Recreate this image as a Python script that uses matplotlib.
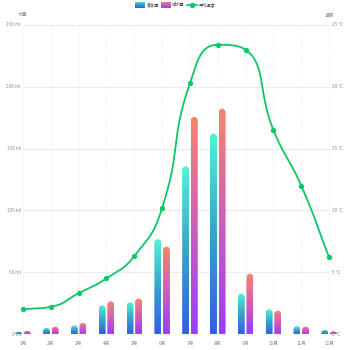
import numpy as np
import matplotlib
matplotlib.use("Agg")
import matplotlib.pyplot as plt
from matplotlib.path import Path
from matplotlib.patches import PathPatch
from matplotlib.colors import LinearSegmentedColormap
from matplotlib.transforms import blended_transform_factory

plt.rcParams['font.family'] = ['Noto Sans CJK SC', 'DejaVu Sans']

months = ['1月', '2月', '3月', '4月', '5月', '6月', '7月', '8月', '9月', '10月', '11月', '12月']
evaporation = [2.0, 4.9, 7.0, 23.2, 25.6, 76.7, 135.6, 162.2, 32.6, 20.0, 6.4, 3.3]
precipitation = [2.6, 5.9, 9.0, 26.4, 28.7, 70.7, 175.6, 182.2, 48.7, 18.8, 6.0, 2.3]
temperature = [2.0, 2.2, 3.3, 4.5, 6.3, 10.2, 20.3, 23.4, 23.0, 16.5, 12.0, 6.2]
series_names = ['蒸发量', '降水量', '平均温度']
left_ticks = [0, 50, 100, 150, 200, 250]
right_ticks = [0, 5, 10, 15, 20, 25]

W = H = 350
fig = plt.figure(figsize=(3.5, 3.5), dpi=100)
x_left_px, x_right_px = 9.1, 343.0
y_bot_px, y_top_px = 334.0, 25.0
ax = fig.add_axes([x_left_px / W, (H - y_bot_px) / H,
                   (x_right_px - x_left_px) / W, (y_bot_px - y_top_px) / H])
ax.set_xlim(-0.5, 11.5)
ax.set_ylim(0, 250)
ax.axis('off')
ax2 = ax.twinx()
ax2.set_ylim(0, 25)
ax2.axis('off')

label_col = '#8a8c95'
fs = 3.4
n = len(months)
xs = np.arange(n)

# grid
for v in left_ticks[1:]:
    ax.hlines(v, 0, n - 1, color='#e9ebf3', lw=0.7, zorder=0)
ax.hlines(0, 0, n - 1, color='#d9dcec', lw=0.8, zorder=3)
for i in xs:
    ax.vlines(i, 0, 250, color='#e4e4e4', lw=0.5, linestyles=(0, (1, 1.5)), zorder=0)

# tick labels
trL = blended_transform_factory(ax.transAxes, ax.transData)
lx = (21 - x_left_px) / (x_right_px - x_left_px)
for v in left_ticks:
    ax.text(lx, v, f'{v} ml', transform=trL, ha='right', va='center', fontsize=fs, color=label_col)
trR = blended_transform_factory(ax2.transAxes, ax2.transData)
rx = (332 - x_left_px) / (x_right_px - x_left_px)
for v in right_ticks:
    ax2.text(rx, v, f'{v} °C', transform=trR, ha='left', va='center', fontsize=fs, color=label_col)
for i, m in enumerate(months):
    ax.text(i, -6, m, ha='center', va='top', fontsize=fs, color=label_col, clip_on=False)
fig.text(23 / W, 1 - 15 / H, '水量', ha='center', va='center', fontsize=fs, color=label_col)
fig.text(330 / W, 1 - 15 / H, '温度', ha='center', va='center', fontsize=fs, color=label_col)

# gradient bars
cm_evap = LinearSegmentedColormap.from_list('e', ['#2f5fe0', '#3aa2cc', '#52f2d6'])
cm_prec = LinearSegmentedColormap.from_list('p', ['#9a3ef6', '#cf5fb8', '#f7856c'])
grad = np.linspace(0, 1, 256).reshape(-1, 1)
bw = 0.25
px_per_x = (x_right_px - x_left_px) / 12.0
px_per_y = (y_bot_px - y_top_px) / 250.0
rad_px = bw * px_per_x / 2
rxd = bw / 2
ryd = rad_px / px_per_y


def rounded_bar(xc, h, cmap):
    ry = min(ryd, h)
    x0, x1 = xc - rxd, xc + rxd
    t = np.linspace(0, np.pi, 24)
    verts = [(x0, 0), (x1, 0), (x1, h - ry)]
    verts += [(xc + rxd * np.cos(a), h - ry + ry * np.sin(a)) for a in t]
    verts += [(x0, h - ry), (x0, 0)]
    codes = [Path.MOVETO] + [Path.LINETO] * (len(verts) - 2) + [Path.CLOSEPOLY]
    patch = PathPatch(Path(verts, codes), transform=ax.transData, facecolor='none', edgecolor='none')
    ax.add_patch(patch)
    im = ax.imshow(grad, cmap=cmap, origin='lower', extent=[x0, x1, 0, h],
                   aspect='auto', zorder=2, interpolation='bilinear')
    im.set_clip_path(patch)


off = 0.155
for i in xs:
    rounded_bar(i - off, evaporation[i], cm_evap)
    rounded_bar(i + off, precipitation[i], cm_prec)
ax.set_xlim(-0.5, 11.5)
ax.set_ylim(0, 250)

# smooth temperature line (echarts-style bezier smoothing with constraint, pixel space)
green = '#0fc667'
P = np.column_stack([xs * px_per_x, np.array(temperature) * px_per_y * 10])
smooth = 0.5
cpin = P.copy()
cpout = P.copy()
for i in range(n):
    x, y = P[i]
    px_, py_ = P[i - 1] if i > 0 else P[i]
    nx_, ny_ = P[i + 1] if i < n - 1 else P[i]
    vx, vy = nx_ - px_, ny_ - py_
    lprev = np.hypot(x - px_, y - py_)
    lnext = np.hypot(nx_ - x, ny_ - y)
    if lprev + lnext == 0:
        continue
    ratio = lnext / (lprev + lnext)
    ncx = x + vx * smooth * ratio
    ncy = y + vy * smooth * ratio
    ccx = x - vx * smooth * (1 - ratio)
    ccy = y - vy * smooth * (1 - ratio)
    if lnext > 0:
        ncx = min(ncx, max(nx_, x)); ncy = min(ncy, max(ny_, y))
        ncx = max(ncx, min(nx_, x)); ncy = max(ncy, min(ny_, y))
        if lprev > 0:
            ccx = x - (ncx - x) * lprev / lnext
            ccy = y - (ncy - y) * lprev / lnext
    if lprev > 0:
        ccx = min(ccx, max(px_, x)); ccy = min(ccy, max(py_, y))
        ccx = max(ccx, min(px_, x)); ccy = max(ccy, min(py_, y))
        if lnext > 0:
            ncx = x + (x - ccx) * lnext / lprev
            ncy = y + (y - ccy) * lnext / lprev
    cpin[i] = (ccx, ccy)
    cpout[i] = (ncx, ncy)
curve = []
tt = np.linspace(0, 1, 40)[:, None]
for i in range(n - 1):
    a, b, c, d = P[i], cpout[i], cpin[i + 1], P[i + 1]
    seg = (1 - tt) ** 3 * a + 3 * (1 - tt) ** 2 * tt * b + 3 * (1 - tt) * tt ** 2 * c + tt ** 3 * d
    curve.append(seg)
curve = np.vstack(curve)
ax2.plot(curve[:, 0] / px_per_x, curve[:, 1] / (px_per_y * 10), color=green, lw=1.3, zorder=5,
         solid_capstyle='round')
ax2.plot(xs, temperature, 'o', color=green, ms=2.8, zorder=6)
ax2.set_xlim(-0.5, 11.5)
ax2.set_ylim(0, 25)

# legend
lfs = 3.0
def leg_square(x, cmap):
    la = fig.add_axes([x / W, 1 - 8.5 / H, 10 / W, 7 / H])
    la.imshow(grad, cmap=cmap, origin='lower', aspect='auto', extent=[0, 1, 0, 1])
    la.axis('off')

leg_y = 1 - 5 / H
leg_square(135, cm_evap)
fig.text(147 / W, leg_y, series_names[0], ha='left', va='center', fontsize=lfs, color='#444444')
leg_square(161, cm_prec)
fig.text(172 / W, leg_y, series_names[1], ha='left', va='center', fontsize=lfs, color='#444444')
fig.add_artist(plt.Line2D([187 / W, 197 / W], [leg_y, leg_y], color=green, lw=1.2))
fig.add_artist(plt.Line2D([192 / W], [leg_y], marker='o', color=green, ms=2.8))
fig.text(199 / W, leg_y, series_names[2], ha='left', va='center', fontsize=lfs, color='#444444')

fig.savefig('out.png', dpi=100)
